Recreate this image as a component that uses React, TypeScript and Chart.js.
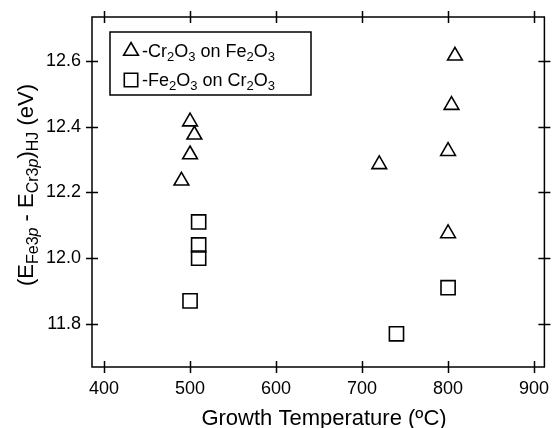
import React, { useEffect, useRef } from "react";
import { Chart, registerables } from "chart.js";

Chart.register(...registerables);

const FONT = '"Liberation Sans", Arial, Helvetica, sans-serif';

// Axis ranges and ticks
const xRange = [386, 912];
const yRange = [11.669, 12.733];
const xTickValues = [400, 500, 600, 700, 800, 900];
const yTickValues = [11.8, 12.0, 12.2, 12.4, 12.6];

// Series: Cr2O3 on Fe2O3 (triangles)
const triTemps = [500, 505, 500, 490, 808, 804, 800, 720, 800];
const triValues = [12.415, 12.375, 12.315, 12.235, 12.615, 12.465, 12.325, 12.285, 12.075];

// Series: Fe2O3 on Cr2O3 (squares)
const sqTemps = [510, 510, 510, 500, 800, 740];
const sqValues = [12.11, 12.04, 12.0, 11.87, 11.91, 11.77];

type Seg = { t: string; sub?: boolean; it?: boolean };

const legendRows: { style: "triangle" | "rect"; segs: Seg[] }[] = [
  {
    style: "triangle",
    segs: [{ t: "-Cr" }, { t: "2", sub: true }, { t: "O" }, { t: "3", sub: true }, { t: " on Fe" }, { t: "2", sub: true }, { t: "O" }, { t: "3", sub: true }],
  },
  {
    style: "rect",
    segs: [{ t: "-Fe" }, { t: "2", sub: true }, { t: "O" }, { t: "3", sub: true }, { t: " on Cr" }, { t: "2", sub: true }, { t: "O" }, { t: "3", sub: true }],
  },
];

const yTitleSegs: Seg[] = [
  { t: "(E" },
  { t: "Fe3", sub: true },
  { t: "p", sub: true, it: true },
  { t: " - E" },
  { t: "Cr3", sub: true },
  { t: "p", sub: true, it: true },
  { t: ")" },
  { t: "HJ", sub: true },
  { t: " (eV)" },
];
const xTitle = "Growth Temperature (ºC)";

function segFont(s: Seg, main: number, sub: number) {
  return `${s.it ? "italic " : ""}${s.sub ? sub : main}px ${FONT}`;
}

function measureSegs(ctx: CanvasRenderingContext2D, segs: Seg[], main: number, sub: number) {
  let w = 0;
  for (const s of segs) {
    ctx.font = segFont(s, main, sub);
    w += ctx.measureText(s.t).width;
  }
  return w;
}

function drawSegs(ctx: CanvasRenderingContext2D, segs: Seg[], x: number, y: number, main: number, sub: number, off: number) {
  let cx = x;
  ctx.textBaseline = "alphabetic";
  ctx.textAlign = "left";
  for (const s of segs) {
    ctx.font = segFont(s, main, sub);
    ctx.fillText(s.t, cx, s.sub ? y + off : y);
    cx += ctx.measureText(s.t).width;
  }
}

function drawMarker(ctx: CanvasRenderingContext2D, style: string, x: number, y: number, r: number) {
  ctx.beginPath();
  if (style === "triangle") {
    ctx.moveTo(x, y - r);
    ctx.lineTo(x + Math.sin((2 * Math.PI) / 3) * r, y + r / 2);
    ctx.lineTo(x - Math.sin((2 * Math.PI) / 3) * r, y + r / 2);
    ctx.closePath();
  } else {
    const h = Math.SQRT1_2 * r;
    ctx.rect(x - h, y - h, 2 * h, 2 * h);
  }
  ctx.stroke();
}

const decorPlugin = {
  id: "decor",
  afterDraw(chart: any) {
    const ctx: CanvasRenderingContext2D = chart.ctx;
    const { left, right, top, bottom } = chart.chartArea;
    const xs = chart.scales.x;
    const ys = chart.scales.y;
    ctx.save();
    ctx.strokeStyle = "#000";
    ctx.fillStyle = "#000";
    ctx.lineWidth = 1.5;
    ctx.strokeRect(left, top, right - left, bottom - top);
    const L = 6;
    ctx.beginPath();
    xs.ticks.forEach((t: any) => {
      const px = Math.round(xs.getPixelForValue(t.value)) + 0.5;
      ctx.moveTo(px, bottom - L);
      ctx.lineTo(px, bottom + L);
      ctx.moveTo(px, top - L);
      ctx.lineTo(px, top + L);
    });
    ys.ticks.forEach((t: any) => {
      const py = Math.round(ys.getPixelForValue(t.value)) + 0.5;
      ctx.moveTo(left - L, py);
      ctx.lineTo(left + L, py);
      ctx.moveTo(right - L, py);
      ctx.lineTo(right + L, py);
    });
    ctx.stroke();

    // Legend box
    const lx = left + 18;
    const ly = top + 15;
    const lw = 201;
    const lh = 63;
    ctx.lineWidth = 1.5;
    ctx.strokeRect(lx, ly, lw, lh);
    legendRows.forEach((row, i) => {
      const cy = ly + 19 + i * 29;
      ctx.lineWidth = 1.6;
      drawMarker(ctx, row.style, lx + 21, cy, row.style === "triangle" ? 8.5 : 9.5);
      drawSegs(ctx, row.segs, lx + 32, cy + 6, 18, 13, 4);
    });

    // X title
    ctx.font = `22px ${FONT}`;
    ctx.textAlign = "center";
    ctx.textBaseline = "alphabetic";
    ctx.fillText(xTitle, 324, 425);

    // Y title (rotated, with subscripts)
    ctx.save();
    ctx.translate(33, 185);
    ctx.rotate(-Math.PI / 2);
    const w = measureSegs(ctx, yTitleSegs, 22, 16);
    drawSegs(ctx, yTitleSegs, -w / 2, 0, 22, 16, 5);
    ctx.restore();

    ctx.restore();
  },
};

export default function App() {
  const ref = useRef<HTMLCanvasElement | null>(null);
  useEffect(() => {
    if (!ref.current) return;
    const chart = new Chart(ref.current, {
      type: "scatter",
      data: {
        datasets: [
          {
            label: "Cr2O3 on Fe2O3",
            data: triTemps.map((x, i) => ({ x, y: triValues[i] })),
            pointStyle: "triangle",
            pointRadius: 8.5,
            pointHoverRadius: 8.5,
            borderColor: "#000",
            backgroundColor: "rgba(0,0,0,0)",
            borderWidth: 1.6,
          },
          {
            label: "Fe2O3 on Cr2O3",
            data: sqTemps.map((x, i) => ({ x, y: sqValues[i] })),
            pointStyle: "rect",
            pointRadius: 10,
            pointHoverRadius: 10,
            borderColor: "#000",
            backgroundColor: "rgba(0,0,0,0)",
            borderWidth: 1.6,
          },
        ],
      },
      options: {
        responsive: false,
        animation: false,
        devicePixelRatio: 1,
        events: [],
        layout: { padding: { left: 0, right: 6, top: 17, bottom: 0 } },
        plugins: { legend: { display: false }, tooltip: { enabled: false }, title: { display: false } },
        scales: {
          x: {
            type: "linear",
            position: "bottom",
            min: xRange[0],
            max: xRange[1],
            afterBuildTicks: (s: any) => {
              s.ticks = xTickValues.map((v) => ({ value: v }));
            },
            afterFit: (s: any) => {
              s.height = 61;
            },
            grid: { display: false, drawTicks: true, tickLength: 6 },
            border: { display: false },
            ticks: {
              color: "#000",
              font: { family: FONT, size: 18 },
              padding: 5,
              maxRotation: 0,
              callback: (v: any) => String(v),
            },
          },
          y: {
            type: "linear",
            min: yRange[0],
            max: yRange[1],
            afterBuildTicks: (s: any) => {
              s.ticks = yTickValues.map((v) => ({ value: v }));
            },
            afterFit: (s: any) => {
              s.width = 92;
            },
            grid: { display: false, drawTicks: true, tickLength: 6 },
            border: { display: false },
            ticks: {
              color: "#000",
              font: { family: FONT, size: 18 },
              padding: 5,
              callback: (v: any) => Number(v).toFixed(1),
            },
          },
        },
      },
      plugins: [decorPlugin],
    });
    return () => chart.destroy();
  }, []);
  return (
    <div style={{ position: "absolute", left: 0, top: 0, width: 556, height: 428, background: "#fff" }}>
      <canvas ref={ref} width={556} height={428} style={{ display: "block" }} />
    </div>
  );
}
